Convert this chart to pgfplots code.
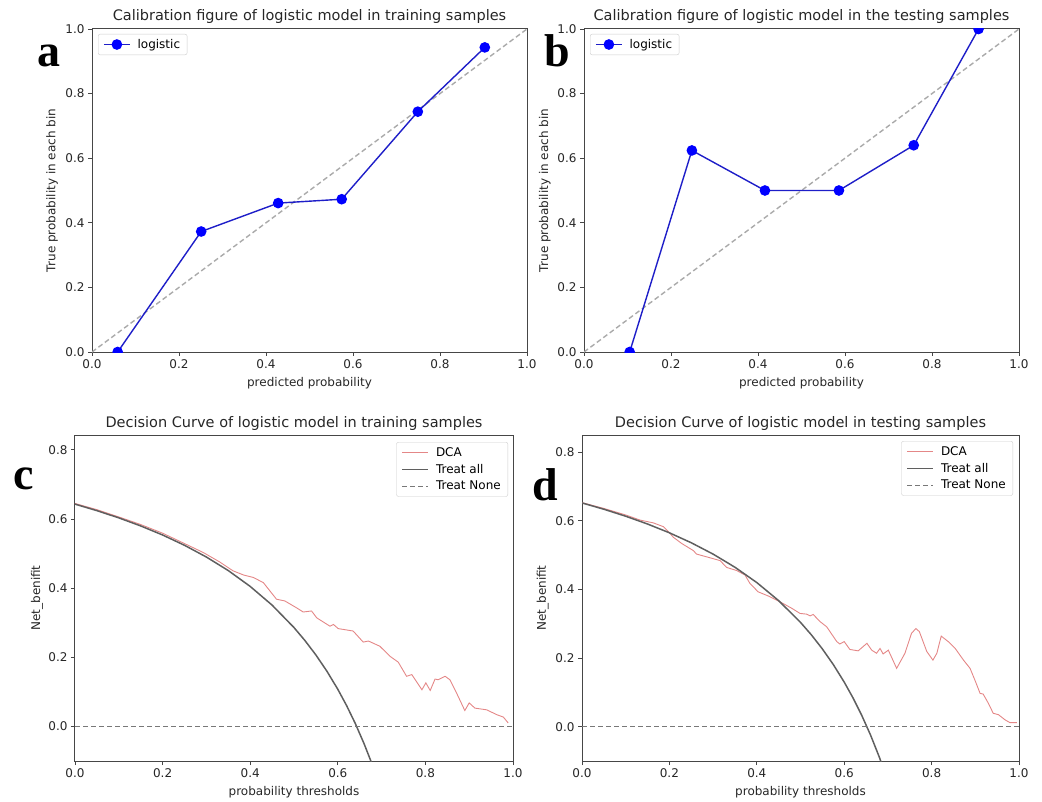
\documentclass[border=0pt]{standalone}
\usepackage{fontspec}
\setmainfont{DejaVu Sans}
\newfontfamily\letterfont{Liberation Serif}
\usepackage{pgfplots}
\pgfplotsset{compat=1.18}

\definecolor{calblue}{RGB}{30,30,200}
\definecolor{dcared}{RGB}{228,135,135}
\definecolor{allgray}{RGB}{95,95,95}
\definecolor{nonegray}{RGB}{120,120,120}
\definecolor{diaggray}{RGB}{170,170,170}
\definecolor{framegray}{RGB}{70,70,70}

\pgfplotsset{
  panel/.style={
    scale only axis,
    xmin=0, xmax=1,
    axis line style={framegray, line width=1pt},
    tick style={framegray, line width=0.8pt},
    tick align=outside, major tick length=4pt,
    xtick pos=left, ytick pos=left,
    xtick={0,0.2,0.4,0.6,0.8,1},
    ticklabel style={font=\fontsize{12}{14}\selectfont, text=black!85},
    /pgf/number format/fixed,
    /pgf/number format/fixed zerofill,
    /pgf/number format/precision=1,
    /pgf/number format/assume math mode=true,
    label style={font=\fontsize{12}{14}\selectfont, text=black!85},
    xlabel style={at={(axis description cs:0.5,0)}, anchor=base, yshift=-34pt},
    title style={font=\fontsize{14.5}{17}\selectfont, text=black!85, at={(0.5,1)}, anchor=base, yshift=2pt},
    legend style={font=\fontsize{12}{14}\selectfont, draw=black!20, rounded corners=2pt,
      inner xsep=5pt, inner ysep=3pt, row sep=2.5pt,
      /tikz/every odd column/.append style={column sep=5pt}},
    legend cell align=left,
  },
}

\begin{document}
\begin{tikzpicture}
\useasboundingbox (0pt,0pt) rectangle (1042pt,-802pt);

% a: calibration, training
\begin{axis}[panel, at={(92pt,-29pt)}, anchor=north west,
  width=435pt, height=323pt, ymin=0, ymax=1,
  ytick={0,0.2,0.4,0.6,0.8,1},
  clip marker paths=true,
  title={Calibration figure of logistic model in training samples},
  xlabel={predicted probability},
  ylabel={True probability in each bin},
  ylabel style={at={(axis description cs:-0.092,0.5)}, anchor=center},
  legend style={at={(axis description cs:0,1)}, anchor=north west, xshift=6pt, yshift=-5pt},
  legend image code/.code={\draw[mark repeat=2,mark phase=2,#1] plot coordinates {(0pt,0pt) (13pt,0pt) (26pt,0pt)};},
]
\addplot[diaggray, dashed, line width=1.4pt, dash pattern=on 5pt off 3pt, forget plot] coordinates {(0,0) (1,1)};
\addplot[calblue, line width=1.4pt, mark=*, mark size=4.6pt, mark options={fill=blue, draw=blue}] coordinates {
  (0.059,0) (0.251,0.373) (0.428,0.461) (0.574,0.473) (0.749,0.744) (0.903,0.943)};
\addlegendentry{logistic}
\end{axis}

% b: calibration, testing
\begin{axis}[panel, at={(584pt,-29pt)}, anchor=north west,
  width=435pt, height=323pt, ymin=0, ymax=1,
  ytick={0,0.2,0.4,0.6,0.8,1},
  clip marker paths=true,
  title={Calibration figure of logistic model in the testing samples},
  xlabel={predicted probability},
  ylabel={True probability in each bin},
  ylabel style={at={(axis description cs:-0.09,0.5)}, anchor=center},
  legend style={at={(axis description cs:0,1)}, anchor=north west, xshift=6pt, yshift=-5pt},
  legend image code/.code={\draw[mark repeat=2,mark phase=2,#1] plot coordinates {(0pt,0pt) (13pt,0pt) (26pt,0pt)};},
]
\addplot[diaggray, dashed, line width=1.4pt, dash pattern=on 5pt off 3pt, forget plot] coordinates {(0,0) (1,1)};
\addplot[calblue, line width=1.4pt, mark=*, mark size=4.6pt, mark options={fill=blue, draw=blue}] coordinates {
  (0.105,0) (0.248,0.624) (0.416,0.5) (0.586,0.5) (0.758,0.640) (0.907,1.0)};
\addlegendentry{logistic}
\end{axis}

% c: decision curve, training
\begin{axis}[panel, at={(75pt,-435pt)}, anchor=north west,
  width=438pt, height=326pt, ymin=-0.1, ymax=0.843,
  ytick={0,0.2,0.4,0.6,0.8},
  title={Decision Curve of logistic model in training samples},
  xlabel={probability thresholds},
  ylabel={Net\_benifit},
  ylabel style={at={(axis description cs:-0.087,0.5)}, anchor=center},
  legend style={at={(axis description cs:1,1)}, anchor=north east, xshift=-5pt, yshift=-7pt},
  legend image code/.code={\draw[#1] (0pt,0pt) -- (26pt,0pt);},
]
\addplot[dcared, line width=0.9pt] coordinates {
  (0,0.645) (0.05,0.627) (0.1,0.606) (0.15,0.584) (0.2,0.559) (0.25,0.529) (0.293,0.503)
  (0.33,0.476) (0.361,0.450) (0.385,0.438) (0.407,0.431) (0.430,0.416) (0.445,0.392)
  (0.460,0.368) (0.479,0.363) (0.506,0.343) (0.521,0.331) (0.540,0.334) (0.552,0.314)
  (0.582,0.290) (0.590,0.295) (0.601,0.283) (0.635,0.276) (0.658,0.244) (0.670,0.247)
  (0.696,0.232) (0.719,0.203) (0.738,0.186) (0.757,0.145) (0.769,0.150) (0.792,0.106)
  (0.801,0.126) (0.811,0.104) (0.822,0.137) (0.829,0.135) (0.845,0.145) (0.856,0.135)
  (0.871,0.097) (0.890,0.046) (0.900,0.068) (0.913,0.053) (0.940,0.048) (0.963,0.034)
  (0.978,0.027) (0.989,0.010)};
\addlegendentry{DCA}
\addplot[allgray, line width=1.5pt] coordinates {
  (0,0.643) (0.05,0.6242) (0.1,0.6033) (0.15,0.5800) (0.2,0.5538) (0.25,0.524)
  (0.3,0.490) (0.35,0.4508) (0.4,0.405) (0.45,0.3509) (0.5,0.286) (0.525,0.2484)
  (0.55,0.2067) (0.575,0.1600) (0.6,0.1075) (0.62,0.0605) (0.64,0.0083)
  (0.66,-0.0500) (0.675,-0.0985) (0.68,-0.1156)};
\addlegendentry{Treat all}
\addplot[nonegray, line width=1.3pt, dash pattern=on 5pt off 3pt] coordinates {(0,0) (1,0)};
\addlegendentry{Treat None}
\end{axis}

% d: decision curve, testing
\begin{axis}[panel, at={(582pt,-435pt)}, anchor=north west,
  width=437pt, height=326pt, ymin=-0.1, ymax=0.85,
  ytick={0,0.2,0.4,0.6,0.8},
  title={Decision Curve of logistic model in testing samples},
  xlabel={probability thresholds},
  ylabel={Net\_benifit},
  ylabel style={at={(axis description cs:-0.09,0.5)}, anchor=center},
  legend style={at={(axis description cs:1,1)}, anchor=north east, xshift=-6pt, yshift=-6pt},
  legend image code/.code={\draw[#1] (0pt,0pt) -- (26pt,0pt);},
]
\addplot[dcared, line width=0.9pt] coordinates {
  (0,0.653) (0.05,0.636) (0.1,0.617) (0.133,0.602) (0.163,0.594) (0.186,0.583)
  (0.198,0.568) (0.209,0.552) (0.228,0.534) (0.255,0.513) (0.262,0.503) (0.285,0.495)
  (0.316,0.484) (0.331,0.464) (0.354,0.455) (0.373,0.442) (0.384,0.418) (0.403,0.393)
  (0.426,0.381) (0.453,0.364) (0.480,0.345) (0.499,0.330) (0.514,0.328) (0.522,0.323)
  (0.529,0.327) (0.545,0.306) (0.560,0.291) (0.583,0.248) (0.590,0.241) (0.600,0.248)
  (0.613,0.225) (0.632,0.221) (0.652,0.243) (0.663,0.223) (0.674,0.214) (0.682,0.228)
  (0.689,0.212) (0.701,0.223) (0.720,0.170) (0.739,0.214) (0.754,0.272) (0.764,0.286)
  (0.772,0.277) (0.789,0.219) (0.803,0.194) (0.812,0.214) (0.822,0.264) (0.838,0.248)
  (0.854,0.228) (0.873,0.194) (0.888,0.170) (0.899,0.136) (0.911,0.097) (0.918,0.095)
  (0.930,0.068) (0.941,0.039) (0.953,0.035) (0.968,0.020) (0.979,0.012) (0.995,0.012)};
\addlegendentry{DCA}
\addplot[allgray, line width=1.5pt] coordinates {
  (0,0.652) (0.05,0.6337) (0.1,0.6133) (0.15,0.5906) (0.2,0.565) (0.25,0.536)
  (0.3,0.5029) (0.35,0.4646) (0.4,0.420) (0.45,0.3673) (0.5,0.304) (0.525,0.2674)
  (0.55,0.2267) (0.575,0.1812) (0.6,0.130) (0.62,0.0842) (0.64,0.0333)
  (0.66,-0.0235) (0.68,-0.0875) (0.69,-0.1226)};
\addlegendentry{Treat all}
\addplot[nonegray, line width=1.3pt, dash pattern=on 5pt off 3pt] coordinates {(0,0) (1,0)};
\addlegendentry{Treat None}
\end{axis}

% panel letters
\node[anchor=base west, inner sep=0pt, font=\letterfont\bfseries\fontsize{46}{46}\selectfont] at (37pt,-67pt) {a};
\node[anchor=base west, inner sep=0pt, font=\letterfont\bfseries\fontsize{46}{46}\selectfont] at (544pt,-67pt) {b};
\node[anchor=base west, inner sep=0pt, font=\letterfont\bfseries\fontsize{46}{46}\selectfont] at (13pt,-489pt) {c};
\node[anchor=base west, inner sep=0pt, font=\letterfont\bfseries\fontsize{46}{46}\selectfont] at (532pt,-500pt) {d};
\end{tikzpicture}
\end{document}
